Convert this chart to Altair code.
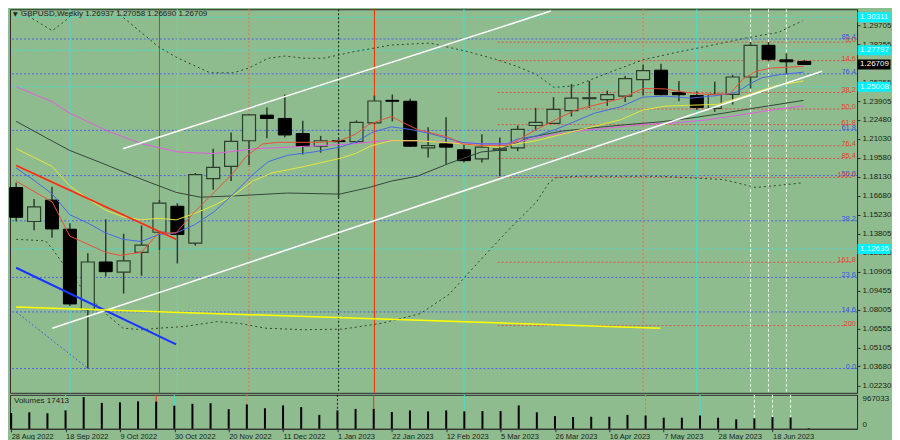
import altair as alt
import pandas as pd

BG = "#8fbc8f"
INK = "#1b241b"
WICK = "#2d3d2d"
FONT = "Liberation Sans"

symbol = "GBPUSD"
timeframe = "Weekly"

# ---------------- weekly candles (index 0 = week of 28 Aug 2022) ----------------
week = list(range(45))
opens = [1.1732, 1.1473, 1.1636, 1.1414, 1.0800, 1.1164, 1.1086, 1.1238, 1.1391, 1.1589,
         1.1308, 1.1800, 1.1894, 1.2089, 1.2284, 1.2259, 1.2144, 1.2047, 1.2089, 1.2082,
         1.2225, 1.2397, 1.2390, 1.2035, 1.2065, 1.2020, 1.1951, 1.2015, 1.2035, 1.2205,
         1.2222, 1.2318, 1.2410, 1.2403, 1.2429, 1.2555, 1.2627, 1.2457, 1.2434, 1.2336,
         1.2442, 1.2575, 1.2817, 1.2706, 1.26937]
highs = [1.1769, 1.1645, 1.1737, 1.1460, 1.1231, 1.1490, 1.1379, 1.1443, 1.1636, 1.1613,
         1.1843, 1.2028, 1.2151, 1.2292, 1.2343, 1.2442, 1.2242, 1.2126, 1.2109, 1.2244,
         1.2434, 1.2442, 1.2410, 1.2192, 1.2269, 1.2065, 1.2138, 1.2114, 1.2205, 1.2340,
         1.2422, 1.2521, 1.2545, 1.2471, 1.2582, 1.2671, 1.2676, 1.2545, 1.2466, 1.2540,
         1.2590, 1.2841, 1.2841, 1.2755, 1.27058]
lows = [1.1473, 1.1406, 1.1349, 1.0829, 1.0351, 1.1053, 1.0923, 1.1059, 1.1256, 1.1153,
        1.1288, 1.1715, 1.1781, 1.1904, 1.2107, 1.2114, 1.1983, 1.1998, 1.1650, 1.2072,
        1.2215, 1.2237, 1.2042, 1.1961, 1.1911, 1.1922, 1.1922, 1.1818, 1.2010, 1.2168,
        1.2218, 1.2274, 1.2340, 1.2355, 1.2385, 1.2434, 1.2435, 1.2390, 1.2323, 1.2310,
        1.2365, 1.2488, 1.2693, 1.2595, 1.26690]
closes = [1.1505, 1.1584, 1.1416, 1.0844, 1.1164, 1.1090, 1.1172, 1.1293, 1.1613, 1.1374,
          1.1830, 1.1885, 1.2084, 1.2286, 1.2259, 1.2133, 1.2047, 1.2089, 1.2082, 1.2229,
          1.2392, 1.2390, 1.2047, 1.2052, 1.2040, 1.1937, 1.2040, 1.2027, 1.2175, 1.2229,
          1.2328, 1.2414, 1.2417, 1.2440, 1.2562, 1.2624, 1.2440, 1.2440, 1.2343, 1.2442,
          1.2575, 1.2817, 1.2710, 1.2691, 1.26709]
volumes = [483000, 504000, 475000, 562000, 967033, 793000, 811000, 840000, 831000, 706000,
           764000, 782000, 599000, 744000, 628000, 715000, 666000, 426000, 562000, 608000,
           608000, 512000, 562000, 533000, 562000, 533000, 541000, 541000, 715000, 504000,
           388000, 359000, 368000, 368000, 426000, 405000, 339000, 339000, 405000, 339000,
           290000, 318000, 359000, 347000, 17413]

date_labels = ["28 Aug 2022", "18 Sep 2022", "9 Oct 2022", "30 Oct 2022", "20 Nov 2022",
               "11 Dec 2022", "1 Jan 2023", "22 Jan 2023", "12 Feb 2023", "5 Mar 2023",
               "26 Mar 2023", "16 Apr 2023", "7 May 2023", "28 May 2023", "18 Jun 2023"]
date_label_idx = [0, 3, 6, 9, 12, 15, 18, 21, 24, 27, 30, 33, 36, 39, 42]

price_ticks = [1.29705, 1.28255, 1.25355, 1.23905, 1.22480, 1.21030, 1.19580, 1.18130,
               1.16680, 1.15230, 1.13805, 1.12355, 1.10905, 1.09455, 1.08005, 1.06555,
               1.05105, 1.03680, 1.02230]
marker_prices = [1.30311, 1.27797, 1.25008, 1.12635]

# ---------------- indicator lines (week index, price) ----------------
red_ma_i = [0, 2.02, 2.99, 4.99, 5.8, 6.99, 7.96, 8.93, 9.96, 11.05, 12.12, 12.83, 13.75, 14.61,
            15.53, 17.0, 18.07, 18.94, 19.69, 20.94, 21.64, 22.39, 24.18, 24.88, 25.96, 27.42,
            27.96, 29.04, 30.12, 31.21, 32.29, 33.75, 34.99, 36.23, 37.31, 38.78, 39.85, 40.56,
            41.31, 42.18, 43.96]
red_ma_p = [1.1781, 1.1621, 1.1362, 1.1238, 1.1214, 1.1238, 1.1386, 1.1386, 1.1547, 1.1695,
            1.1843, 1.1968, 1.2064, 1.2077, 1.2077, 1.2077, 1.2089, 1.2138, 1.2212, 1.2274,
            1.2225, 1.2175, 1.2114, 1.2065, 1.2052, 1.2052, 1.2089, 1.2175, 1.2249, 1.2323,
            1.2360, 1.2410, 1.2488, 1.2484, 1.2459, 1.2440, 1.2447, 1.2558, 1.2619, 1.2644,
            1.2656]
blue_ma_i = [0, 0.94, 2.02, 2.99, 4.02, 4.99, 5.96, 6.99, 7.96, 8.93, 9.96, 11.05, 12.12, 13.2,
             14.07, 15.15, 16.61, 18.07, 18.94, 19.85, 20.94, 22.02, 23.26, 24.88, 25.96, 27.42,
             27.96, 29.04, 30.12, 31.21, 32.29, 33.75, 34.99, 36.23, 37.69, 39.15, 40.23, 40.94,
             41.64, 42.72, 43.96]
blue_ma_p = [1.1880, 1.1793, 1.1682, 1.1525, 1.1460, 1.1386, 1.1337, 1.1320, 1.1374, 1.1386,
             1.1448, 1.1547, 1.1682, 1.1830, 1.1929, 1.1978, 1.2003, 1.2040, 1.2077, 1.2151,
             1.2195, 1.2175, 1.2138, 1.2077, 1.2065, 1.2065, 1.2101, 1.2126, 1.2175, 1.2237,
             1.2299, 1.2348, 1.2422, 1.2429, 1.2414, 1.2434, 1.2459, 1.2521, 1.2570, 1.2595,
             1.2612]
yel_ma_i = [0, 0.94, 2.02, 2.99, 4.02, 4.99, 5.96, 6.99, 7.96, 8.93, 9.96, 11.05, 12.12, 13.2,
            14.28, 16.07, 18.07, 18.94, 19.85, 20.94, 22.39, 23.8, 24.88, 26.88, 27.96, 29.04,
            30.12, 31.21, 32.29, 33.75, 34.99, 36.23, 37.69, 39.15, 40.23, 41.31, 42.39, 43.96]
yel_ma_p = [1.2028, 1.1966, 1.1892, 1.1744, 1.1645, 1.1559, 1.1510, 1.1485, 1.1497, 1.1485,
            1.1534, 1.1596, 1.1670, 1.1781, 1.1843, 1.1892, 1.1954, 1.1991, 1.2052, 1.2089,
            1.2089, 1.2077, 1.2065, 1.2040, 1.2065, 1.2089, 1.2126, 1.2163, 1.2200, 1.2249,
            1.2323, 1.2353, 1.2360, 1.2366, 1.2410, 1.2459, 1.2508, 1.2545]
mag_ma_i = [0, 2.02, 2.99, 5.1, 7.04, 9.05, 11.05, 13.37, 17.0, 18.77, 20.56, 22.39, 24.18,
            25.96, 27.42, 29.58, 31.37, 33.2, 34.99, 36.77, 38.6, 40.45, 42.18, 43.96]
mag_ma_p = [1.2501, 1.2385, 1.2299, 1.2163, 1.2065, 1.2003, 1.1991, 1.2028, 1.2052, 1.2065,
            1.2089, 1.2089, 1.2077, 1.2065, 1.2065, 1.2126, 1.2163, 1.2188, 1.2212, 1.2225,
            1.2249, 1.2286, 1.2323, 1.2355]
dark_ma_i = [0, 1.64, 2.99, 4.72, 5.26, 7.04, 8.93, 10.29, 12.45, 15.15, 18.07, 19.69, 20.94,
             22.39, 24.18, 25.96, 26.88, 28.66, 30.5, 32.29, 34.07, 35.91, 37.69, 39.48, 41.31,
             43.96]
dark_ma_p = [1.2237, 1.2114, 1.2015, 1.1922, 1.1892, 1.1793, 1.1695, 1.1658, 1.1670, 1.1690,
             1.1682, 1.1732, 1.1781, 1.1818, 1.1917, 1.2003, 1.2015, 1.2114, 1.2163, 1.2188,
             1.2212, 1.2232, 1.2262, 1.2299, 1.2340, 1.2397]
upper_band_i = [0, 0.56, 2.02, 2.94, 3.64, 4.45, 5.26, 5.8, 7.96, 9.05, 10.83, 12.12, 13.0,
                14.07, 15.0, 16.07, 17.15, 18.8, 20.94, 23.1, 25.26, 26.88, 27.96, 29.04, 30.02,
                31.21, 32.83, 34.99, 37.0, 38.35, 40.94, 42.55, 43.9]
upper_band_p = [1.3110, 1.3050, 1.2928, 1.3026, 1.3200, 1.3260, 1.3200, 1.3050, 1.2804, 1.2718,
                1.2607, 1.2607, 1.2644, 1.2718, 1.2735, 1.2718, 1.2718, 1.2767, 1.2819, 1.2834,
                1.2767, 1.2706, 1.2656, 1.2595, 1.2496, 1.2508, 1.2595, 1.2706, 1.2767, 1.2804,
                1.2878, 1.2915, 1.3004]
lower_band_i = [0, 1.64, 2.02, 2.99, 4.02, 5.1, 5.96, 7.04, 7.96, 9.42, 11.21, 12.45, 13.91,
                16.07, 18.24, 20.4, 22.56, 24.18, 25.8, 27.42, 29.04, 29.75, 30.12, 31.37, 35.91,
                39.48, 41.31, 43.1, 43.96]
lower_band_p = [1.1337, 1.1325, 1.1264, 1.1079, 1.0906, 1.0758, 1.0659, 1.0647, 1.0659, 1.0672,
                1.0709, 1.0696, 1.0659, 1.0647, 1.0652, 1.0696, 1.0770, 1.0918, 1.1162, 1.1399,
                1.1621, 1.1769, 1.1806, 1.1818, 1.1818, 1.1793, 1.1732, 1.1756, 1.1769]

# trend lines: (start index, start price, end index, end price)
white_up = [5.96, 1.2028, 29.85, 1.3078]
white_low = [2.02, 1.0659, 44.99, 1.2619]
red_trend = [0.0, 1.1900, 8.93, 1.1337]
blue_trend = [0.0, 1.1120, 8.93, 1.0536]
yellow_trend = [0.0, 1.0820, 35.96, 1.0659]
blue_dot_trend = [0.0, 1.0783, 4.02, 1.0351]

# vertical markers (week index)
cyan_v = [3, 9, 25, 38]
red_v = [8, 20]
orange_v = [13, 35]
black_v = [18]
white_v = [41, 42, 43]

# fibonacci levels
blue_fib_p = [1.2865, 1.2599, 1.2168, 1.1823, 1.1478, 1.1046, 1.0783, 1.0351]
blue_fib_t = ["85.4", "76.4", "61.8", "50.0", "38.2", "23.6", "14.6", "0.0"]
red_fib_p = [1.2841, 1.2700, 1.2457, 1.2331, 1.2212, 1.2050, 1.1954, 1.1809, 1.1162, 1.0679]
red_fib_t = ["0.0", "14.6", "38.2", "50.0", "61.8", "76.4", "85.4", "100.0", "161.8", "200"]
red_fib_start = 26.88
cyan_levels = [1.30311, 1.27797, 1.25008, 1.12635]

# ---------------- layout ----------------
W, HP, HV = 848, 384, 34
X_DOM = [-0.065, 46.665]
Y_DOM = [1.0166, 1.3092]
VOL_DOM = [0, 1040000]

xs = alt.Scale(domain=X_DOM, nice=False, zero=False)
ys = alt.Scale(domain=Y_DOM, nice=False, zero=False)
vs = alt.Scale(domain=VOL_DOM, nice=False)

y_axis = alt.Axis(orient="right", values=price_ticks, labelExpr="format(datum.value, '.5f')",
                  title=None, grid=False, tickSize=3, labelPadding=2, labelOverlap=False,
                  labelFlush=False, labelFontSize=8)
step = date_label_idx[1] - date_label_idx[0]
date_expr = "[" + ",".join("'" + s + "'" for s in date_labels) + "][round(datum.value/" + str(step) + ")]"
x_axis = alt.Axis(values=date_label_idx, labelExpr=date_expr, labelAlign="left", labelPadding=1,
                  tickSize=3, labelFontSize=7.5, labelOverlap=False, labelFlush=False,
                  grid=False, title=None)
vol_axis = alt.Axis(orient="right", values=VOL_DOM,
                    labelExpr="datum.value > 0 ? '" + str(max(volumes)) + "' : '0'",
                    ticks=False, labelFlush=True, labelPadding=5, grid=False, title=None,
                    labelFontSize=8)


def PX(field="x"):
    return alt.X(field + ":Q", scale=xs, axis=None, title=None)


def PY(field="y"):
    return alt.Y(field + ":Q", scale=ys, axis=y_axis, title=None)


def VX(field="x"):
    return alt.X(field + ":Q", scale=xs, axis=x_axis, title=None)


def series(xv, yv, color, width=1.0, dash=None):
    df = pd.DataFrame({"x": xv, "y": yv})
    props = dict(color=color, strokeWidth=width, clip=True)
    if dash is not None:
        props["strokeDash"] = dash
    return alt.Chart(df).mark_line(**props).encode(x=PX(), y=PY())


def seg(s, color, width=1.5, dash=None):
    return series([s[0], s[2]], [s[1], s[3]], color, width, dash)


def hlines(prices, color, dash=(2, 2)):
    df = pd.DataFrame({"y": prices})
    return alt.Chart(df).mark_rule(color=color, strokeWidth=1, strokeDash=list(dash)).encode(y=PY())


def vlines(xv, color, dash=None, width=1.0, xenc=PX):
    df = pd.DataFrame({"x": xv})
    props = dict(color=color, strokeWidth=width)
    if dash is not None:
        props["strokeDash"] = dash
    return alt.Chart(df).mark_rule(**props).encode(x=xenc())


candles = pd.DataFrame({"x": week, "o": opens, "h": highs, "l": lows, "c": closes})
candles["lo"] = candles[["o", "c"]].min(axis=1)
candles["hi"] = candles[["o", "c"]].max(axis=1)
bull_df = candles[candles["c"] >= candles["o"]]
bear_df = candles[candles["c"] < candles["o"]]

red_fib_df = pd.DataFrame({"y": red_fib_p, "x0": red_fib_start, "x1": X_DOM[1]})

fib_labels = pd.DataFrame({
    "y": blue_fib_p + red_fib_p,
    "t": blue_fib_t + red_fib_t,
    "col": ["#3a55e0"] * len(blue_fib_p) + ["#e8402c"] * len(red_fib_p),
})

boxes = pd.DataFrame({
    "y": [closes[-1]] + marker_prices,
    "t": ["%.5f" % closes[-1]] + ["%.5f" % p for p in marker_prices],
    "fill": ["#000000"] + ["#00f0ff"] * len(marker_prices),
    "tc": ["#ffffff"] + ["#e9ffff"] * len(marker_prices),
})

title_text = "%s,%s  %.5f %.5f %.5f %.5f" % (symbol, timeframe, opens[-1], highs[-1], lows[-1], closes[-1])
one = pd.DataFrame({"t": [title_text], "tri": ["\u25bc"], "vt": ["Volumes %d" % volumes[-1]]})

price_layers = [
    hlines(blue_fib_p, "#4a64e0"),
    alt.Chart(red_fib_df).mark_rule(color="#e0504a", strokeWidth=1, strokeDash=[2, 2]).encode(
        x=PX("x0"), x2="x1:Q", y=PY()),
    hlines(cyan_levels, "#40e0d0"),
    vlines(cyan_v, "#40e0d0"),
    vlines(red_v, "#ff2a00"),
    vlines(orange_v, "#e8704a", dash=[2, 2]),
    vlines(black_v, "#1a1a1a", dash=[2, 2]),
    vlines(white_v, "#eef6e8", dash=[3, 2]),
    series(upper_band_i, upper_band_p, "#2f482f", 1, [2, 3]),
    series(lower_band_i, lower_band_p, "#2f482f", 1, [2, 3]),
    alt.Chart(candles).mark_rule(color=WICK, strokeWidth=1.5).encode(x=PX(), y=PY("l"), y2="h:Q"),
    alt.Chart(bull_df).mark_bar(size=13, fill=BG, stroke=WICK, strokeWidth=1.2).encode(
        x=PX(), y=PY("lo"), y2="hi:Q"),
    alt.Chart(bear_df).mark_bar(size=13, fill="#000000", stroke="#000000", strokeWidth=1).encode(
        x=PX(), y=PY("lo"), y2="hi:Q"),
    series(dark_ma_i, dark_ma_p, "#34463a"),
    series(mag_ma_i, mag_ma_p, "#e25ce2"),
    series(yel_ma_i, yel_ma_p, "#e6e63a"),
    series(blue_ma_i, blue_ma_p, "#4668e8"),
    series(red_ma_i, red_ma_p, "#e8503c"),
    seg(white_up, "#ffffff"),
    seg(white_low, "#ffffff"),
    seg(red_trend, "#ff2a10", 1.8),
    seg(blue_trend, "#1a35ff", 2),
    seg(yellow_trend, "#ffff00", 1.5),
    seg(blue_dot_trend, "#4a64e0", 1, [2, 2]),
    alt.Chart(fib_labels).mark_text(align="right", baseline="middle", dy=-2, fontSize=7.5,
                                    font=FONT).encode(
        x=alt.value(W - 1), y=PY(), text="t:N", color=alt.Color("col:N", scale=None)),
    alt.Chart(boxes).mark_tick(orient="horizontal", size=33, thickness=10, opacity=1).encode(
        x=alt.value(W + 17), y=PY(), color=alt.Color("fill:N", scale=None)),
    alt.Chart(boxes).mark_text(align="left", baseline="middle", fontSize=8, font=FONT).encode(
        x=alt.value(W + 3), y=PY(), text="t:N", color=alt.Color("tc:N", scale=None)),
    alt.Chart(one).mark_text(align="left", baseline="middle", fontSize=6,
                             font="DejaVu Sans", color=INK).encode(
        x=alt.value(3), y=alt.value(5), text="tri:N"),
    alt.Chart(one).mark_text(align="left", baseline="middle", fontSize=8, font=FONT,
                             color=INK).encode(x=alt.value(11), y=alt.value(5), text="t:N"),
]

price = alt.layer(*price_layers).properties(width=W, height=HP)

vol_df = pd.DataFrame({"x": week, "v": volumes, "z": 0})
vol_layers = [
    vlines(cyan_v, "#40e0d0", xenc=VX),
    vlines(red_v, "#ff2a00", xenc=VX),
    vlines(orange_v, "#e8704a", dash=[2, 2], xenc=VX),
    vlines(black_v, "#1a1a1a", dash=[2, 2], xenc=VX),
    vlines(white_v, "#eef6e8", dash=[3, 2], xenc=VX),
    alt.Chart(vol_df).mark_rule(color="#000000", strokeWidth=2).encode(
        x=VX(), y=alt.Y("v:Q", scale=vs, axis=vol_axis, title=None), y2="z:Q"),
    alt.Chart(one).mark_text(align="left", baseline="middle", fontSize=8, font=FONT,
                             color=INK).encode(x=alt.value(4), y=alt.value(6), text="vt:N"),
]
vol = alt.layer(*vol_layers).properties(width=W, height=HV)

chart = alt.vconcat(price, vol, spacing=0).properties(
    background=BG, padding=0
).configure_view(
    stroke="#2e2e2e", strokeWidth=1
).configure_axis(
    labelFont=FONT, labelColor=INK, domainColor="#2e2e2e", tickColor="#2e2e2e"
)

chart.save("out.html", embed_options={"renderer": "svg", "actions": False})
